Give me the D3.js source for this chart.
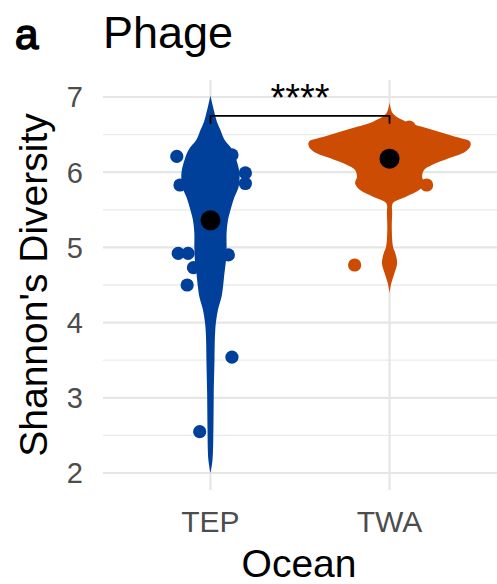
<!DOCTYPE html>
<html><head><meta charset="utf-8">
<script src="https://cdn.jsdelivr.net/npm/d3@7"></script>
<style>body{margin:0;background:#fff}svg{display:block}text{font-family:"Liberation Sans",Arial,sans-serif}</style>
</head><body><div id="chart"></div>
<script>
// ---- data ----
const categories = ["TEP", "TWA"];
const colors = ["#003f9a", "#cb4c02"];
const yTicks = [2, 3, 4, 5, 6, 7];
const yMinor = [2.5, 3.5, 4.5, 5.5, 6.5];
// violin density profiles (value, relative density; max over both = 1)
const tepValues  = [2.0, 2.17, 2.61, 3.06, 3.50, 3.72, 3.94, 4.17, 4.34, 4.47, 4.66, 4.83, 5.0, 5.19, 5.36, 5.54, 5.67, 5.80, 5.99, 6.16, 6.30, 6.43, 6.56, 6.67, 6.79, 6.90, 7.02];
const tepDensity = [0, 0.025, 0.037, 0.041, 0.05, 0.053, 0.062, 0.093, 0.137, 0.155, 0.174, 0.193, 0.2, 0.2, 0.217, 0.26, 0.298, 0.348, 0.36, 0.323, 0.27, 0.174, 0.124, 0.08, 0.05, 0.025, 0];
const twaValues  = [4.39, 4.52, 4.655, 4.79, 4.92, 5.01, 5.231, 5.453, 5.586, 5.674, 5.763, 5.852, 5.94, 6.029, 6.096, 6.184, 6.273, 6.339, 6.406, 6.472, 6.539, 6.605, 6.672, 6.783, 6.93];
const twaDensity = [0, 0.021, 0.061, 0.094, 0.073, 0.043, 0.028, 0.033, 0.04, 0.204, 0.367, 0.428, 0.404, 0.428, 0.526, 0.734, 0.939, 1.0, 1.0, 0.816, 0.612, 0.404, 0.204, 0.04, 0];
// jittered sample points: jitter (category units), value
const tepJitter = [-0.188, 0.12, 0.195, 0.195, -0.17, -0.18, -0.125, 0.10, -0.095, -0.13, 0.12, -0.06];
const tepPoints = [6.21, 6.23, 5.99, 5.85, 5.83, 4.92, 4.92, 4.9, 4.73, 4.5, 3.54, 2.55];
const twaJitter = [-0.195, 0.207, 0.11];
const twaPoints = [4.766, 5.83, 6.6];
const means = [5.36, 6.18];
const signifLabel = "****";
const signifY = 6.75;

// ---- layout ----
const W = 497, H = 584;
const panel = {left: 103, right: 497, top: 80, bottom: 490};
const svg = d3.select("#chart").append("svg").attr("width", W).attr("height", H);

const x = d3.scalePoint().domain(categories).range([panel.left, panel.right]).padding(0.6);
const y = d3.scaleLinear().domain([2, 7]).range([473, 97]);
const step = x.step();
const wScale = d3.scaleLinear().domain([0, 1]).range([0, 0.45 * step]);

// grid
const g = svg.append("g");
g.selectAll(".minor").data(yMinor).join("line")
  .attr("x1", panel.left).attr("x2", panel.right)
  .attr("y1", d => y(d)).attr("y2", d => y(d))
  .attr("stroke", "#ebebeb").attr("stroke-width", 1.3);
g.selectAll(".major").data(yTicks).join("line")
  .attr("x1", panel.left).attr("x2", panel.right)
  .attr("y1", d => y(d)).attr("y2", d => y(d))
  .attr("stroke", "#e6e6e6").attr("stroke-width", 2.2);
g.selectAll(".vmajor").data(categories).join("line")
  .attr("x1", d => x(d)).attr("x2", d => x(d))
  .attr("y1", panel.top).attr("y2", panel.bottom)
  .attr("stroke", "#e6e6e6").attr("stroke-width", 2.2);

// violins
const groups = [
  {cat: "TEP", vals: tepValues, dens: tepDensity, jit: tepJitter, pts: tepPoints},
  {cat: "TWA", vals: twaValues, dens: twaDensity, jit: twaJitter, pts: twaPoints}
];
groups.forEach((gr, i) => {
  const cx = x(gr.cat);
  const prof = gr.vals.map((v, k) => ({v, d: gr.dens[k]}));
  const area = d3.area()
    .y(d => y(d.v))
    .x0(d => cx - wScale(d.d))
    .x1(d => cx + wScale(d.d))
    .curve(d3.curveCatmullRom);
  svg.append("path").attr("d", area(prof)).attr("fill", colors[i]);
  svg.selectAll(null).data(gr.pts.map((v, k) => ({v, j: gr.jit[k]}))).join("circle")
    .attr("cx", d => cx + d.j * step).attr("cy", d => y(d.v))
    .attr("r", 6.6).attr("fill", colors[i]);
});
// means
svg.selectAll(".mean").data(means).join("circle")
  .attr("cx", (d, i) => x(categories[i])).attr("cy", d => y(d))
  .attr("r", 10).attr("fill", "#000");

// significance bracket
const by = y(signifY);
svg.append("path")
  .attr("d", `M${x(categories[0])},${by + 8}V${by}H${x(categories[1])}V${by + 8}`)
  .attr("fill", "none").attr("stroke", "#000").attr("stroke-width", 1.8);
svg.append("text").attr("x", (x(categories[0]) + x(categories[1])) / 2).attr("y", by - 5)
  .attr("text-anchor", "middle").attr("font-size", 38).attr("fill", "#000").text(signifLabel);

// axes text
svg.selectAll(".ytick").data(yTicks).join("text")
  .attr("x", 83).attr("y", d => y(d)).attr("dy", "0.36em")
  .attr("text-anchor", "end").attr("font-size", 29).attr("fill", "#4d4d4d").text(d => d);
svg.selectAll(".xtick").data(categories).join("text")
  .attr("x", d => x(d)).attr("y", 532)
  .attr("text-anchor", "middle").attr("font-size", 30).attr("fill", "#4d4d4d").text(d => d);
svg.append("text").attr("x", 299).attr("y", 577)
  .attr("text-anchor", "middle").attr("font-size", 39).attr("fill", "#000").text("Ocean");
svg.append("text").attr("transform", `translate(47,${(panel.top + panel.bottom) / 2}) rotate(-90)`)
  .attr("text-anchor", "middle").attr("font-size", 39).attr("fill", "#000").text("Shannon's Diversity");
// titles
svg.append("text").attr("x", 15).attr("y", 49).attr("font-size", 42)
  .attr("fill", "#000").attr("stroke", "#000").attr("stroke-width", 1.6).text("a");
svg.append("text").attr("x", 103).attr("y", 48).attr("font-size", 45).attr("fill", "#000").text("Phage");
</script></body></html>
